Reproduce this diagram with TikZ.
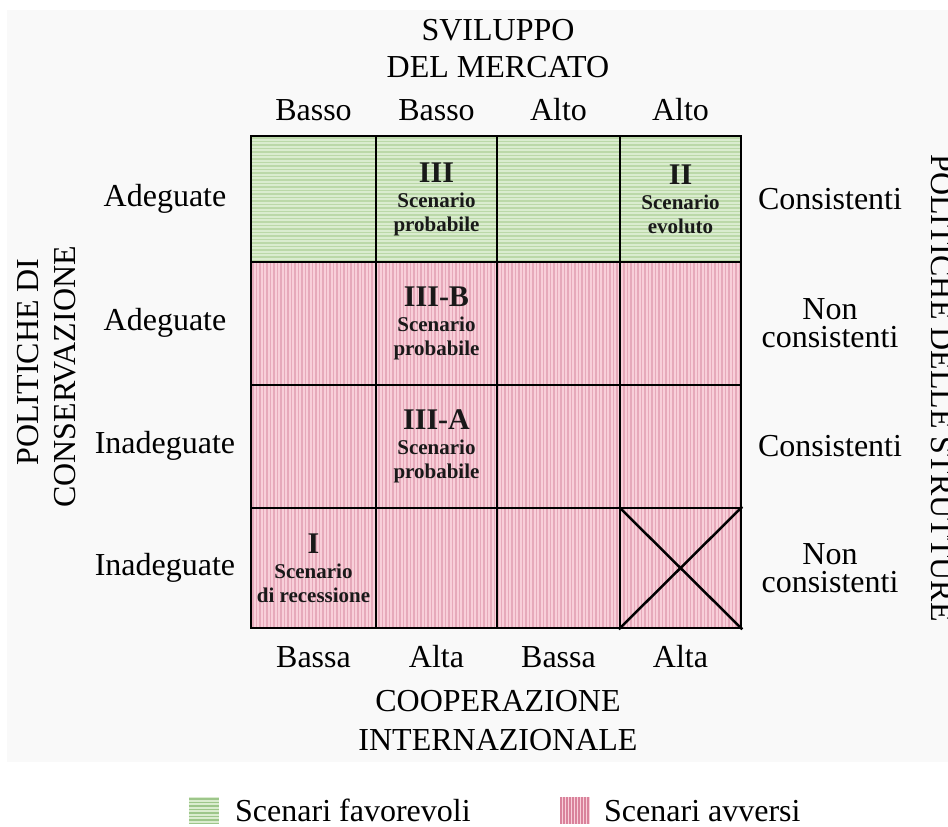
\documentclass[tikz,border=0pt]{standalone}
\usepackage{fontspec}
\setmainfont{Liberation Serif}
\definecolor{panel}{HTML}{F9F9F9}
\definecolor{gbase}{HTML}{DAECCF}
\definecolor{gline}{HTML}{BBD8A8}
\definecolor{pbase}{HTML}{F8CFD9}
\definecolor{pline}{HTML}{E6A9BA}
\definecolor{gsw}{HTML}{9DC68A}
\definecolor{psw}{HTML}{D9829B}
\newcommand{\scentext}[3]{{\fontsize{30}{30}\selectfont #1}\\[1pt]#2\\#3}
\begin{document}
\begin{tikzpicture}[x=1pt,y=-1pt,
  lab/.style={font=\fontsize{32}{28}\selectfont, inner sep=0pt, align=center},
  cell/.style={draw=black, line width=2.5pt, inner sep=0pt},
  scen/.style={font=\bfseries\fontsize{21}{24}\selectfont, align=center, inner sep=0pt, text=black!90}]
\clip (0,0) rectangle (948,827);
\useasboundingbox (0,0) rectangle (948,827);
\fill[white] (0,0) rectangle (948,827);
\fill[panel] (7,10) rectangle (948,762);
% patterns
\fill[gbase] (251,136) rectangle (741,262);
\foreach \y in {138,141.5,...,262} \draw[gline, line width=1.1pt] (251,\y) -- (741,\y);
\fill[pbase] (251,262) rectangle (741,628);
\foreach \x in {253,256.5,...,741} \draw[pline, line width=1.1pt] (\x,262) -- (\x,628);
% cells
\foreach \r/\ya/\yb in {1/136/262, 2/262/385, 3/385/508, 4/508/628}{
  \foreach \c/\xa/\xb in {1/251/376, 2/376/497, 3/497/620, 4/620/741}{
    \node[cell, minimum width={\xb-\xa}, minimum height={\yb-\ya}] (c\r\c) at ({(\xa+\xb)/2},{(\ya+\yb)/2}) {};
  }
}
\draw[line width=2.5pt] (c44.north west) -- (c44.south east);
\draw[line width=2.5pt] (c44.north east) -- (c44.south west);
% scenario texts
\node[scen] (s3) at (c12) {\scentext{III}{Scenario}{probabile}};
\node[scen] (s2) at (c14) {\scentext{II}{Scenario}{evoluto}};
\node[scen] (s3b) at (c22) {\scentext{III-B}{Scenario}{probabile}};
\node[scen] (s3a) at (c32) {\scentext{III-A}{Scenario}{probabile}};
\node[scen] (s1) at (c41) {\scentext{I}{Scenario}{di recessione}};
% top labels
\node[lab, anchor=base] (t1) at (498,40) {SVILUPPO};
\node[lab, anchor=base] (t2) at (498,77) {DEL MERCATO};
\node[lab, anchor=base] (h1) at (c11.north |- 0,120) {Basso};
\node[lab, anchor=base] (h2) at (c12.north |- 0,120) {Basso};
\node[lab, anchor=base] (h3) at (c13.north |- 0,120) {Alto};
\node[lab, anchor=base] (h4) at (c14.north |- 0,120) {Alto};
% bottom labels
\node[lab, anchor=base] (b1) at (c41.south |- 0,667) {Bassa};
\node[lab, anchor=base] (b2) at (c42.south |- 0,667) {Alta};
\node[lab, anchor=base] (b3) at (c43.south |- 0,667) {Bassa};
\node[lab, anchor=base] (b4) at (c44.south |- 0,667) {Alta};
\node[lab, anchor=base] (bt1) at (498,711) {COOPERAZIONE};
\node[lab, anchor=base] (bt2) at (498,750) {INTERNAZIONALE};
% left labels
\node[lab] (l1) at (165,199) {Adeguate};
\node[lab] (l2) at (165,323) {Adeguate};
\node[lab] (l3) at (165,446) {Inadeguate};
\node[lab] (l4) at (165,568) {Inadeguate};
\node[lab, rotate=90, anchor=base] (lv1) at (38,362) {POLITICHE DI};
\node[lab, rotate=90, anchor=base] (lv2) at (75,377) {CONSERVAZIONE};
% right labels
\node[lab] (r1) at (830,199) {Consistenti};
\node[lab] (r2) at (830,323) {Non\\consistenti};
\node[lab] (r3) at (830,446) {Consistenti};
\node[lab] (r4) at (830,568) {Non\\consistenti};
\node[lab, rotate=-90, anchor=base] (rv) at (931,388) {POLITICHE DELLE STRUTTURE};
% legend
\node[inner sep=0pt, minimum width=30, minimum height=27, fill=gbase] (gk) at (204,810.5) {};
\foreach \y in {799,802.5,...,824} \draw[gsw, line width=1.1pt] (gk.west |- 0,\y) -- (gk.east |- 0,\y);
\node[lab, anchor=base west] (gt) at (235,821) {Scenari favorevoli};
\node[inner sep=0pt, minimum width=30, minimum height=27, fill=pbase] (pk) at (574.5,810.5) {};
\foreach \x in {561,564,...,589} \draw[psw, line width=1.1pt] (\x,0 |- pk.north) -- (\x,0 |- pk.south);
\node[lab, anchor=base west] (pt) at (604,821) {Scenari avversi};
\end{tikzpicture}
\end{document}
